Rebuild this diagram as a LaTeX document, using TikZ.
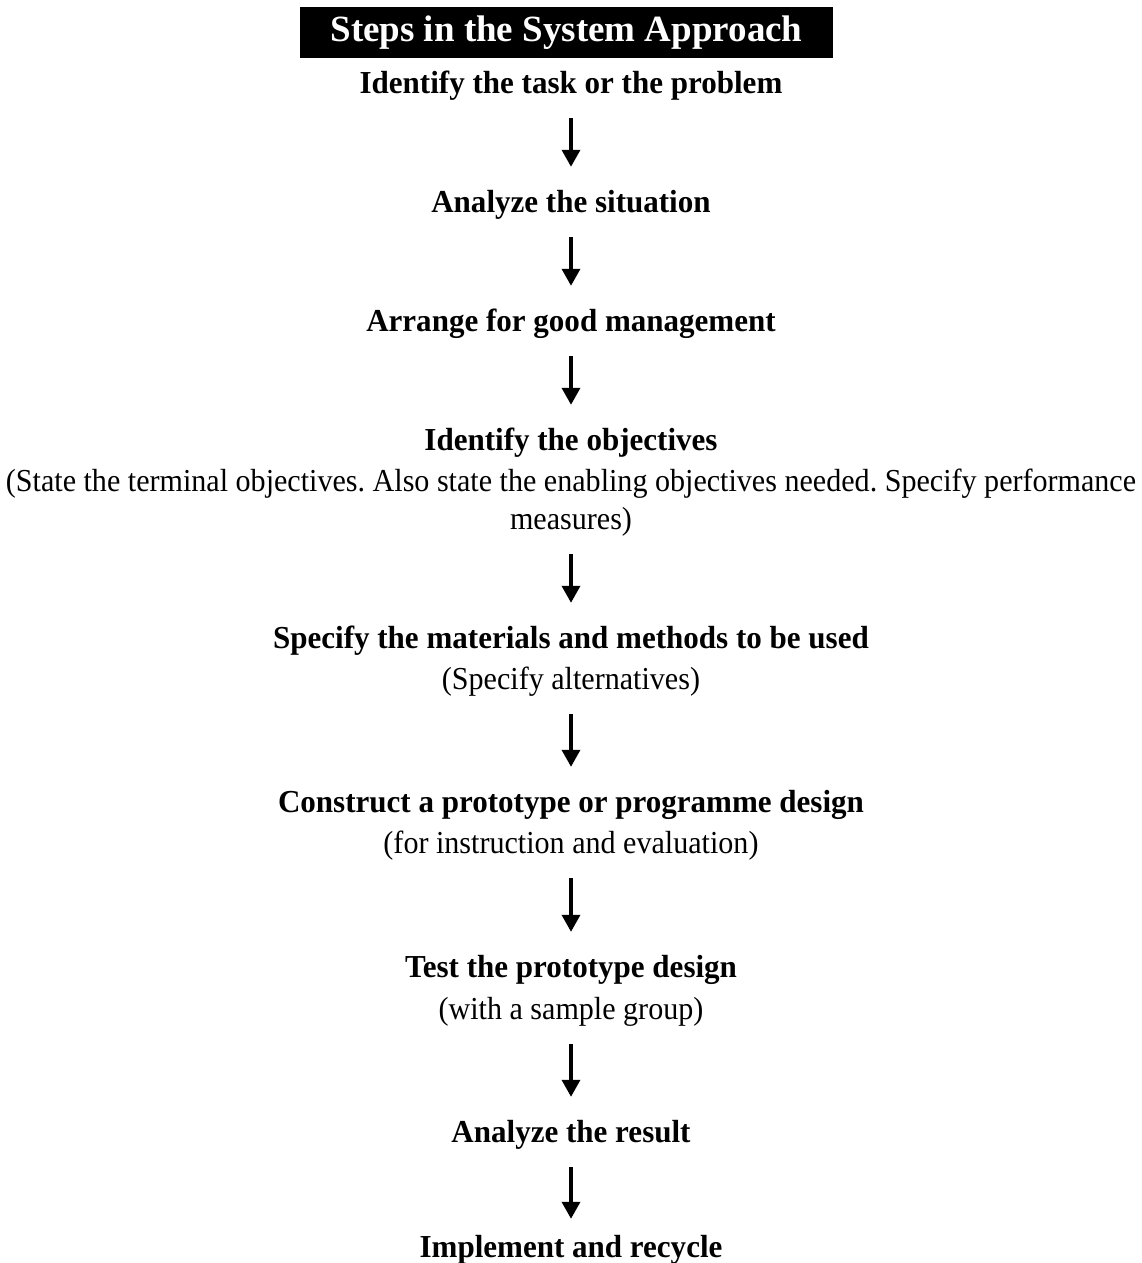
\documentclass[tikz,border=0pt]{standalone}
\usepackage{fontspec}
\setmainfont{Liberation Serif}
\newfontfamily\stepfont{Liberation Serif}[FakeStretch=0.97]
\newfontfamily\notefont{Liberation Serif}[FakeStretch=0.94]
\newfontfamily\titlefont{Liberation Serif}
\usetikzlibrary{arrows.meta}
\frenchspacing
\begin{document}
\begin{tikzpicture}[x=1pt,y=-1pt,
  stepnode/.style={inner sep=0pt, anchor=base, text height=22pt, text depth=7pt,
    font={\stepfont\bfseries\fontsize{32}{38}\selectfont}},
  notenode/.style={inner sep=0pt, anchor=base, text height=22pt, text depth=7pt,
    font={\notefont\fontsize{32}{38}\selectfont}},
  titlenode/.style={inner xsep=0pt, inner ysep=0pt, anchor=base, fill=black, text=white,
    minimum width=533pt, text height=35pt, text depth=16pt,
    font={\titlefont\bfseries\fontsize{37}{44}\selectfont}},
  arr/.style={line width=3.5pt, -{Triangle[width=18pt,length=17pt]},
    shorten <=18pt, shorten >=23pt}
]
\useasboundingbox (0,0) rectangle (1142,1263);
\node[titlenode] (title) at (566.5,42) {Steps in the System Approach};
\node[stepnode] (s1) at (571,93) {Identify the task or the problem};
\node[stepnode] (s2) at (571,212) {Analyze the situation};
\node[stepnode] (s3) at (571,331) {Arrange for good management};
\node[stepnode] (s4) at (571,450) {Identify the objectives};
\node[notenode] (n4a) at (571,491) {(State the terminal objectives. Also state the enabling objectives needed. Specify performance};
\node[notenode] (n4b) at (571,529) {measures)};
\node[stepnode] (s5) at (571,648) {Specify the materials and methods to be used};
\node[notenode] (n5) at (571,689) {(Specify alternatives)};
\node[stepnode] (s6) at (571,812) {Construct a prototype or programme design};
\node[notenode] (n6) at (571,853) {(for instruction and evaluation)};
\node[stepnode] (s7) at (571,977) {Test the prototype design};
\node[notenode] (n7) at (571,1019) {(with a sample group)};
\node[stepnode] (s8) at (571,1142) {Analyze the result};
\node[stepnode] (s9) at (571,1257) {Implement and recycle};
\draw[arr] (s1) -- (s2);
\draw[arr] (s2) -- (s3);
\draw[arr] (s3) -- (s4);
\draw[arr] (n4b) -- (s5);
\draw[arr] (n5) -- (s6);
\draw[arr] (n6) -- (s7);
\draw[arr] (n7) -- (s8);
\draw[arr, shorten >=16pt] (s8) -- (s9);
\end{tikzpicture}
\end{document}
